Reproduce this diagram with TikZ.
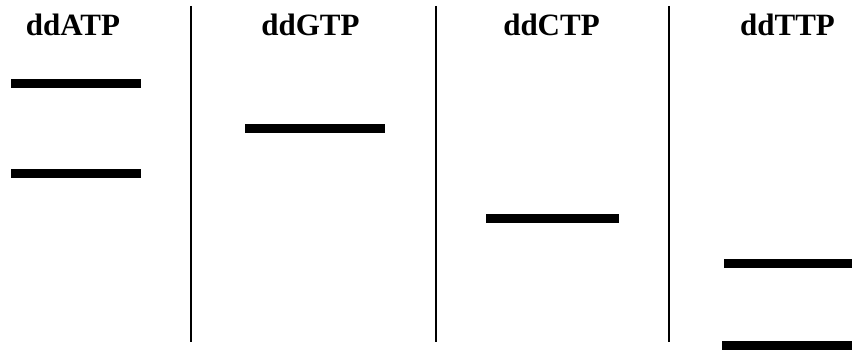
\documentclass[tikz,border=0pt]{standalone}
\usepackage{fontspec}
\setmainfont{Liberation Serif}
\begin{document}
\begin{tikzpicture}[x=1pt,y=-1pt,
  lanelabel/.style={anchor=base,inner sep=0pt,font=\fontsize{31}{37}\selectfont\bfseries},
  band/.style={line width=9pt},
  divider/.style={line width=2.5pt}]
\useasboundingbox (0,0) rectangle (852,353);
% labels
\node[lanelabel] (la) at (73,36) {ddATP};
\node[lanelabel] (lg) at (310.5,36) {ddGTP};
\node[lanelabel] (lc) at (551.5,36) {ddCTP};
\node[lanelabel] (lt) at (787.5,36) {ddTTP};
% dividers
\draw[divider] (191,6) -- (191,341.5);
\draw[divider] (436,6) -- (436,341.5);
\draw[divider] (669,6) -- (669,341.5);
% bands
\draw[band] (11,83.5) -- (141,83.5);
\draw[band] (11,173.5) -- (141,173.5);
\draw[band] (245,128.3) -- (385,128.3);
\draw[band] (486,218.3) -- (619,218.3);
\draw[band] (724,263.5) -- (852,263.5);
\draw[band] (722,345.3) -- (852,345.3);
\end{tikzpicture}
\end{document}
